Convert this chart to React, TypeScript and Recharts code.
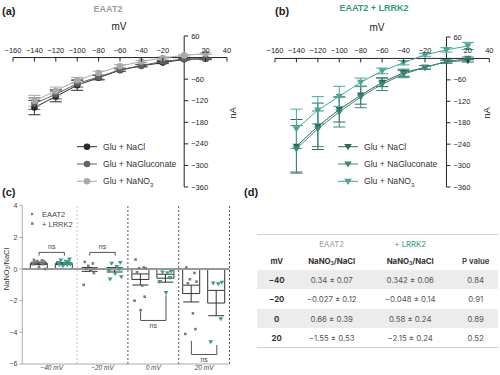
import React from "react";
import {
  LineChart,
  Line,
  XAxis,
  YAxis,
  ErrorBar,
  ReferenceLine,
  ReferenceDot,
  Legend,
  ComposedChart,
  Bar,
  Scatter,
} from "recharts";

const FONT = "'Liberation Sans', Arial, sans-serif";
const TEAL = "#2f9a80";
const MINUS = "\u2212";

// ---- (a) / (b) current–voltage curves ----
const mvSteps = [-140, -120, -100, -80, -60, -40, -20, 0, 20];
const ivTicksX = [-160, -140, -120, -100, -80, -60, -40, -20, 20, 40];
const ivTicksY = [60, -60, -120, -180, -240, -300, -360];
const X_MIN = -160;
const X_MAX = 40;
const Y_MIN = -360;
const Y_MAX = 60;

const eaatNaCl = [-139, -108, -77, -56, -35, -23, -14, -5, -3];
const eaatNaClErr = [20, 15, 14, 6, 4, 3, 3, 2, 2];
const eaatGluc = [-128, -102, -72, -54, -34, -22, -11, -4, -4];
const eaatGlucErr = [16, 13, 10, 6, 4, 3, 3, 2, 2];
const eaatNO3 = [-120, -93, -63, -43, -24, -11, -1, 6, 11];
const eaatNO3Err = [15, 11, 8, 5, 4, 3, 3, 2, 2];

const lrrkNaCl = [-246, -190, -143, -103, -67, -40, -25, -9, -6];
const lrrkNaClErr = [75, 65, 35, 25, 12, 10, 5, 4, 4];
const lrrkGluc = [-253, -197, -150, -108, -72, -44, -25, -9, 0];
const lrrkGlucErr = [65, 50, 42, 30, 18, 10, 5, 4, 4];
const lrrkNO3 = [-197, -145, -106, -67, -35, -12, 10, 24, 35];
const lrrkNO3Err = [55, 38, 28, 12, 8, 6, 4, 6, 10];

const seriesNames = ["Glu + NaCl", "Glu + NaGluconate", "Glu + NaNO"];

// ---- (c) NaNO3 / NaCl ratio ----
const groups = [MINUS + "40 mV", MINUS + "20 mV", "0 mV", "20 mV"];
const eaatRatio = [0.36, -0.027, -0.66, -1.55];
const eaatRatioErr = [0.07, 0.12, 0.35, 0.53];
const lrrkRatio = [0.342, -0.048, -0.58, -2.15];
const lrrkRatioErr = [0.06, 0.14, 0.25, 0.8];
const eaatCells = [
  [0.58, 0.55, 0.5, 0.48, 0.45, 0.4, 0.3, 0.3, 0.15, 0.0],
  [0.45, 0.35, 0.2, 0.05, 0.0, -0.1, -0.25, -1.0],
  [0.6, 0.1, 0.05, 0.05, -0.2, -1.05, -1.75, -2.0, -2.6],
  [0.1, -0.25, -0.65, -0.8, -0.9, -2.8, -3.8, -4.1],
];
const lrrkCells = [
  [0.62, 0.55, 0.48, 0.45, 0.4, 0.35, 0.3, 0.28, 0.25, 0.2],
  [0.4, 0.35, 0.15, 0.0, -0.1, -0.3, -0.5, -0.65],
  [-0.15, -0.2, -0.25, -0.55, -0.8, -1.5],
  [-0.85, -0.9, -0.95, -3.15, -4.6],
];
const jitter = [-0.1, 0.06, -0.03, 0.1, -0.07, 0.03, 0.08, -0.12, 0.0, 0.12];
// significance brackets: from, to, level, left / right leg ends
const brackets = [
  { x1: 0.25, x2: 0.75, y: 1.05, yl: 0.85, yr: 0.85, below: false },
  { x1: 1.25, x2: 1.75, y: 1.05, yl: 0.85, yr: 0.85, below: false },
  { x1: 2.25, x2: 2.75, y: -3.25, yl: -2.7, yr: -1.65, below: true },
  { x1: 3.25, x2: 3.75, y: -5.4, yl: -4.55, yr: -4.8, below: true },
];

// ---- (d) table ----
const tableRows = [
  { mv: MINUS + "40", eaat: "0.34 \u00b1 0.07", lrrk: "0.342 \u00b1 0.06", p: "0.84" },
  { mv: MINUS + "20", eaat: MINUS + "0.027 \u00b1 0.12", lrrk: MINUS + "0.048 \u00b1 0.14", p: "0.91" },
  { mv: "0", eaat: "0.66 \u00b1 0.39", lrrk: "0.58 \u00b1 0.24", p: "0.89" },
  { mv: "20", eaat: MINUS + "1.55 \u00b1 0.53", lrrk: MINUS + "2.15 \u00b1 0.24", p: "0.52" },
];

const fmt = (v: number) => (v < 0 ? MINUS + Math.abs(v) : String(v));

type Series = { key: string; name: string; color: string; values: number[]; err: number[] };

function Marker({ cx, cy, color, shape }: any) {
  if (cx == null || cy == null) return null;
  if (shape === "tri") {
    return <polygon points={`${cx - 3.8},${cy - 2.6} ${cx + 3.8},${cy - 2.6} ${cx},${cy + 3.6}`} fill={color} />;
  }
  return <circle cx={cx} cy={cy} r={3.3} fill={color} />;
}

function LegendRows({ series, shape, labelSize }: any) {
  return (
    <svg width={150} height={56} style={{ overflow: "visible" }}>
      {series.map((s: Series, i: number) => {
        const y = 8.7 + i * 17.3;
        return (
          <g key={s.key}>
            <line x1={2} x2={22} y1={y} y2={y} stroke={s.color} strokeWidth={1} />
            <Marker cx={12} cy={y} color={s.color} shape={shape} />
            <text x={28} y={y + 3} fontSize={labelSize} fill="#333" fontFamily={FONT}>
              {s.name}
              {i === 2 ? (
                <tspan fontSize={6} dy={2.5}>3</tspan>
              ) : null}
            </text>
          </g>
        );
      })}
    </svg>
  );
}

function IVPanel({ left, margin, series, shape, legendLeft }: any) {
  const W = 250;
  const H = 196;
  // the two axes take 1px each (top / left)
  const plotL = margin.left + 1;
  const plotT = margin.top + 1;
  const plotW = W - plotL - margin.right;
  const plotH = H - plotT - margin.bottom;
  const x0 = plotL + (plotW * (0 - X_MIN)) / (X_MAX - X_MIN);
  const y0 = plotT + (plotH * (Y_MAX - 0)) / (Y_MAX - Y_MIN);
  const rows = mvSteps.map((mv, i) => {
    const r: any = { mv };
    series.forEach((s: Series) => {
      r[s.key] = s.values[i];
      r[s.key + "Err"] = s.err[i];
    });
    return r;
  });

  const xTick = (p: any) => (
    <g>
      <line x1={p.x} x2={p.x} y1={y0} y2={y0 + 4} stroke="#222" />
      <text x={p.x} y={y0 - 5} textAnchor="middle" fontSize={7.5} fill="#222" fontFamily={FONT}>
        {fmt(p.payload.value)}
      </text>
    </g>
  );
  const yTick = (p: any) => (
    <g>
      <line x1={x0} x2={x0 + 4} y1={p.y} y2={p.y} stroke="#222" />
      <text x={x0 + 7} y={p.y + 2.6} textAnchor="start" fontSize={7.5} fill="#222" fontFamily={FONT}>
        {fmt(p.payload.value)}
      </text>
    </g>
  );

  return (
    <div style={{ position: "absolute", left, top: 0 }}>
      <LineChart width={W} height={H} data={rows} margin={margin}>
        <XAxis
          dataKey="mv"
          type="number"
          orientation="top"
          domain={[X_MIN, X_MAX]}
          ticks={ivTicksX}
          interval={0}
          height={1}
          axisLine={false}
          tickLine={false}
          tick={xTick}
        />
        <YAxis
          type="number"
          domain={[Y_MIN, Y_MAX]}
          ticks={ivTicksY}
          interval={0}
          width={1}
          axisLine={false}
          tickLine={false}
          tick={yTick}
        />
        <ReferenceLine x={0} stroke="#222" strokeWidth={1} />
        <ReferenceLine y={0} stroke="#222" strokeWidth={1} />
        {series.map((s: Series) => (
          <Line
            key={s.key}
            dataKey={s.key}
            name={s.name}
            stroke={s.color}
            strokeWidth={1}
            isAnimationActive={false}
            dot={(p: any) => <Marker key={s.key + p.index} cx={p.cx} cy={p.cy} color={s.color} shape={shape} />}
            activeDot={false}
          >
            <ErrorBar dataKey={s.key + "Err"} direction="y" width={6} stroke={s.color} strokeWidth={1} />
          </Line>
        ))}
        <Legend
          layout="vertical"
          align="center"
          verticalAlign="middle"
          wrapperStyle={{ left: legendLeft, top: 138, width: 150 }}
          content={() => <LegendRows series={series} shape={shape} labelSize={8.6} />}
        />
      </LineChart>
    </div>
  );
}

function RatioPanel() {
  const bars = groups.map((g, i) => ({
    group: g,
    eaat: eaatRatio[i],
    eaatErr: eaatRatioErr[i],
    lrrk: lrrkRatio[i],
    lrrkErr: lrrkRatioErr[i],
  }));
  const eaatPts = eaatCells.flatMap((vals, g) => vals.map((v, i) => ({ x: g + 0.25 + jitter[i % jitter.length], y: v })));
  const lrrkPts = lrrkCells.flatMap((vals, g) => vals.map((v, i) => ({ x: g + 0.75 + jitter[(i + 3) % jitter.length], y: v })));

  return (
    <div style={{ position: "absolute", left: 0, top: 190 }}>
      <ComposedChart width={250} height={185} data={bars} margin={{ top: 15.7, right: 20.5, bottom: 0, left: 0 }} barGap={8}>
        <XAxis
          xAxisId="cat"
          dataKey="group"
          height={11}
          padding={{ left: 4, right: 0 }}
          interval={0}
          tickLine={false}
          tickSize={0}
          tickMargin={1}
          axisLine={{ stroke: "#aaa" }}
          tick={{ fontSize: 6.5, fontStyle: "italic", fill: "#444", fontFamily: FONT }}
        />
        <XAxis
          xAxisId="num"
          dataKey="x"
          type="number"
          domain={[0, 4]}
          allowDataOverflow
          hide
          padding={{ left: 4, right: 0 }}
        />
        <YAxis
          domain={[-6, 4]}
          ticks={[-6, -4, -2, 0, 2, 4]}
          allowDataOverflow
          interval={0}
          width={22.3}
          tickSize={3}
          tickMargin={2}
          axisLine={{ stroke: "#aaa" }}
          tickLine={{ stroke: "#aaa" }}
          tick={{ fontSize: 7, fill: "#444", fontFamily: FONT }}
          tickFormatter={fmt}
        />
        <ReferenceLine xAxisId="num" x={1} stroke="#c4c4c4" strokeDasharray="2 2" />
        <ReferenceLine xAxisId="num" x={2} stroke="#555" strokeDasharray="2 2" />
        <ReferenceLine xAxisId="num" x={3} stroke="#555" strokeDasharray="2 2" />
        <ReferenceLine xAxisId="num" x={4} stroke="#555" strokeDasharray="2 2" />
        <Bar xAxisId="cat" dataKey="eaat" barSize={17} fill="#fff" fillOpacity={0} stroke="#333" strokeWidth={1} isAnimationActive={false}>
          <ErrorBar dataKey="eaatErr" direction="y" width={8} stroke="#333" strokeWidth={1} />
        </Bar>
        <Bar xAxisId="cat" dataKey="lrrk" barSize={17} fill="#fff" fillOpacity={0} stroke="#333" strokeWidth={1} isAnimationActive={false}>
          <ErrorBar dataKey="lrrkErr" direction="y" width={8} stroke="#333" strokeWidth={1} />
        </Bar>
        <ReferenceLine xAxisId="cat" y={0} stroke="#999" strokeWidth={2} />
        <Scatter
          xAxisId="num"
          data={eaatPts}
          dataKey="y"
          isAnimationActive={false}
          shape={(p: any) => <rect x={p.cx - 1.3} y={p.cy - 1.3} width={2.6} height={2.6} fill="#7a7a7a" />}
        />
        <Scatter
          xAxisId="num"
          data={lrrkPts}
          dataKey="y"
          isAnimationActive={false}
          shape={(p: any) => (
            <polygon points={`${p.cx - 2.4},${p.cy - 1.7} ${p.cx + 2.4},${p.cy - 1.7} ${p.cx},${p.cy + 2.3}`} fill="#3a9c8a" />
          )}
        />
        {brackets.map((b, i) => (
          <ReferenceLine key={"h" + i} xAxisId="num" segment={[{ x: b.x1, y: b.y }, { x: b.x2, y: b.y }]} stroke="#555" />
        ))}
        {brackets.map((b, i) => (
          <ReferenceLine key={"l" + i} xAxisId="num" segment={[{ x: b.x1, y: b.y }, { x: b.x1, y: b.yl }]} stroke="#555" />
        ))}
        {brackets.map((b, i) => (
          <ReferenceLine key={"r" + i} xAxisId="num" segment={[{ x: b.x2, y: b.y }, { x: b.x2, y: b.yr }]} stroke="#555" />
        ))}
        {brackets.map((b, i) => (
          <ReferenceDot
            key={"ns" + i}
            xAxisId="num"
            x={(b.x1 + b.x2) / 2}
            y={b.y}
            r={0}
            stroke="none"
            fill="none"
            label={{ value: "ns", position: b.below ? "bottom" : "top", offset: 3, fontSize: 7, fill: "#444", fontFamily: FONT }}
          />
        ))}
        <Legend
          layout="vertical"
          align="center"
          verticalAlign="middle"
          wrapperStyle={{ left: 28, top: 19, width: 80 }}
          content={() => (
            <svg width={80} height={22}>
              <rect x={3} y={4} width={2.2} height={2.2} fill="#7a7a7a" />
              <text x={14} y={8} fontSize={7.5} fill="#444" fontFamily={FONT}>EAAT2</text>
              <rect x={3} y={13.3} width={2.6} height={2.6} fill="#3a9c8a" />
              <text x={14} y={17.5} fontSize={7.5} fill="#444" fontFamily={FONT}>+ LRRK2</text>
            </svg>
          )}
        />
      </ComposedChart>
      <div
        style={{
          position: "absolute",
          left: 7 - 40,
          top: 79 - 5,
          width: 80,
          height: 10,
          lineHeight: "10px",
          textAlign: "center",
          fontSize: 7.5,
          color: "#333",
          transform: "rotate(-90deg)",
          fontFamily: FONT,
        }}
      >
        NaNO<sub style={{ fontSize: 5, verticalAlign: "-1px" }}>3</sub>/NaCl
      </div>
    </div>
  );
}

function RatioTable() {
  const cell: React.CSSProperties = { textAlign: "center", padding: 0 };
  const bold: React.CSSProperties = { ...cell, fontWeight: 700, color: "#333" };
  return (
    <table
      style={{
        position: "absolute",
        left: 256.7,
        top: 234.3,
        width: 241,
        borderCollapse: "collapse",
        tableLayout: "fixed",
        fontFamily: "Inter, 'Liberation Sans', sans-serif",
        fontSize: 7.8,
        color: "#555",
        borderTop: "1px solid #cfcfcf",
        borderBottom: "1px solid #cfcfcf",
      }}
    >
      <colgroup>
        <col style={{ width: 40 }} />
        <col style={{ width: 70 }} />
        <col style={{ width: 87 }} />
        <col style={{ width: 44 }} />
      </colgroup>
      <tbody>
        <tr style={{ height: 17 }}>
          <td style={cell}></td>
          <td style={{ ...cell, color: "#9a9a9a" }}>EAAT2</td>
          <td style={{ ...cell, color: TEAL }}>+ LRRK2</td>
          <td style={cell}></td>
        </tr>
        <tr style={{ height: 18 }}>
          <td style={bold}>mV</td>
          <td style={bold}>
            NaNO<sub style={{ fontSize: 5, verticalAlign: "-1px" }}>3</sub>/NaCl
          </td>
          <td style={bold}>
            NaNO<sub style={{ fontSize: 5, verticalAlign: "-1px" }}>3</sub>/NaCl
          </td>
          <td style={{ ...bold, fontWeight: 600 }}>P value</td>
        </tr>
        {tableRows.map((r, i) => (
          <tr key={r.mv} style={{ height: 19.5, background: i % 2 === 0 ? "#ececec" : "#fff" }}>
            <td style={bold}>{r.mv}</td>
            <td style={cell}>{r.eaat}</td>
            <td style={cell}>{r.lrrk}</td>
            <td style={cell}>{r.p}</td>
          </tr>
        ))}
      </tbody>
    </table>
  );
}

const eaatSeries: Series[] = [
  { key: "nacl", name: seriesNames[0], color: "#2a2a2a", values: eaatNaCl, err: eaatNaClErr },
  { key: "gluc", name: seriesNames[1], color: "#626262", values: eaatGluc, err: eaatGlucErr },
  { key: "no3", name: seriesNames[2], color: "#a9a9a9", values: eaatNO3, err: eaatNO3Err },
];
const lrrkSeries: Series[] = [
  { key: "nacl", name: seriesNames[0], color: "#2b6a5f", values: lrrkNaCl, err: lrrkNaClErr },
  { key: "gluc", name: seriesNames[1], color: "#3c8678", values: lrrkGluc, err: lrrkGlucErr },
  { key: "no3", name: seriesNames[2], color: "#46a896", values: lrrkNO3, err: lrrkNO3Err },
];

const panelLabel = (left: number, top: number): React.CSSProperties => ({
  position: "absolute",
  left,
  top,
  fontSize: 11,
  fontWeight: 700,
  color: "#222",
  fontFamily: FONT,
});

export default function App() {
  return (
    <div
      style={{
        position: "absolute",
        left: 0,
        top: 0,
        width: 500,
        height: 375,
        background: "#fff",
        overflow: "hidden",
        fontFamily: FONT,
      }}
    >
      <IVPanel left={0} margin={{ top: 35, right: 23, bottom: 9, left: 12 }} series={eaatSeries} shape="circle" legendLeft={75} />
      <IVPanel left={250} margin={{ top: 36, right: 10.7, bottom: 9, left: 24 }} series={lrrkSeries} shape="tri" legendLeft={86} />
      <RatioPanel />
      <RatioTable />

      <div style={panelLabel(2, 5)}>(a)</div>
      <div style={panelLabel(275, 5)}>(b)</div>
      <div style={panelLabel(2, 186)}>(c)</div>
      <div style={panelLabel(244, 186)}>(d)</div>

      <div style={{ position: "absolute", left: 108 - 40, top: 4, width: 80, textAlign: "center", fontSize: 9, fontWeight: 700, color: "#9b9b9b" }}>
        EAAT2
      </div>
      <div style={{ position: "absolute", left: 374 - 60, top: 2.5, width: 120, textAlign: "center", fontSize: 9, fontWeight: 700, color: TEAL }}>
        EAAT2 + LRRK2
      </div>
      <div style={{ position: "absolute", left: 119 - 20, top: 21, width: 40, textAlign: "center", fontSize: 10, color: "#222" }}>mV</div>
      <div style={{ position: "absolute", left: 377 - 20, top: 22, width: 40, textAlign: "center", fontSize: 10, color: "#222" }}>mV</div>
      <div style={{ position: "absolute", left: 233 - 10, top: 113 - 6, width: 20, height: 12, lineHeight: "12px", textAlign: "center", fontSize: 9.5, color: "#222", transform: "rotate(-90deg)" }}>
        nA
      </div>
      <div style={{ position: "absolute", left: 487 - 10, top: 113 - 6, width: 20, height: 12, lineHeight: "12px", textAlign: "center", fontSize: 9.5, color: "#222", transform: "rotate(-90deg)" }}>
        nA
      </div>
    </div>
  );
}
